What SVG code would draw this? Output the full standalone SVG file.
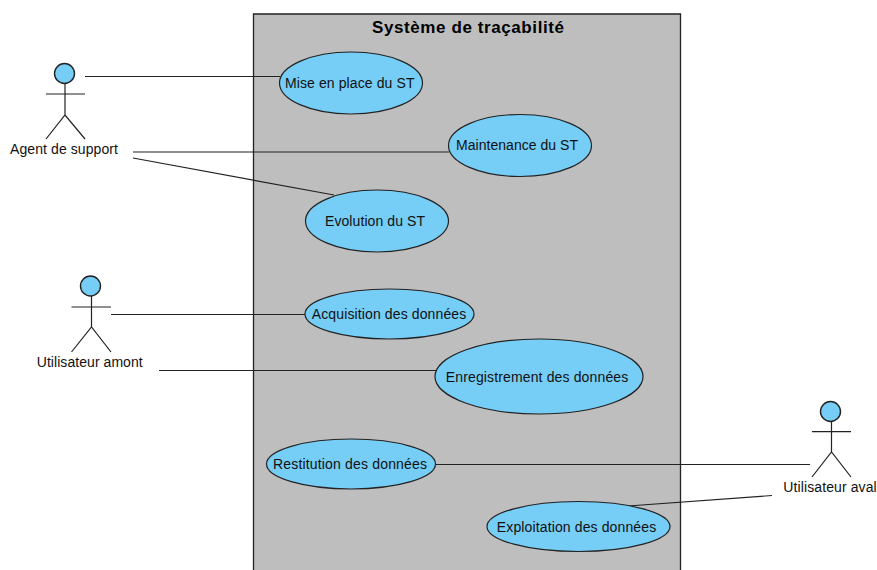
<svg xmlns="http://www.w3.org/2000/svg" width="877" height="570" viewBox="0 0 877 570">
<style>
.uc{fill:#76cdf6;stroke:#222;stroke-width:1.2}
.head{fill:#76cdf6;stroke:#222;stroke-width:1.4}
.limb{fill:none;stroke:#222;stroke-width:1.2}
.conn{fill:none;stroke:#222;stroke-width:1.2}
text{font-family:"Liberation Sans",Arial,sans-serif;font-size:14px;fill:#111;text-anchor:middle}
.title{font-size:17px;font-weight:bold;fill:#000}
</style>
<rect width="877" height="570" fill="#fff"/>
<g id="system">
<path d="M253.5 570V14H680.5V570" fill="#bebebe" stroke="#222" stroke-width="1.3"/>
<text class="title" x="468" y="33" textLength="192">Système de traçabilité</text>
</g>
<g id="connectors">
<line class="conn" x1="85" y1="76.5" x2="280" y2="76.5"/>
<line class="conn" x1="133" y1="152" x2="449" y2="152"/>
<line class="conn" x1="133" y1="158" x2="334" y2="195"/>
<line class="conn" x1="111" y1="314.5" x2="306" y2="314.5"/>
<line class="conn" x1="159" y1="370.5" x2="436" y2="370.5"/>
<line class="conn" x1="435" y1="464.5" x2="810" y2="464.5"/>
<line class="conn" x1="772" y1="495.5" x2="628" y2="506"/>
</g>
<g id="uc-mise"><ellipse class="uc" cx="351" cy="83" rx="71.5" ry="31"/><text x="349.7" y="87.5" textLength="129.5">Mise en place du ST</text></g>
<g id="uc-maintenance"><ellipse class="uc" cx="520" cy="145.5" rx="71.5" ry="31"/><text x="517" y="150" textLength="122">Maintenance du ST</text></g>
<g id="uc-evolution"><ellipse class="uc" cx="377" cy="221" rx="71.5" ry="31"/><text x="375" y="225.5" textLength="100">Evolution du ST</text></g>
<g id="uc-acquisition"><ellipse class="uc" cx="389.5" cy="314" rx="84.5" ry="25"/><text x="389" y="318.5" textLength="154.5">Acquisition des données</text></g>
<g id="uc-enregistrement"><ellipse class="uc" cx="539" cy="376.5" rx="104" ry="37.5"/><text x="537" y="381.5" textLength="182.5">Enregistrement des données</text></g>
<g id="uc-restitution"><ellipse class="uc" cx="351" cy="464" rx="84.5" ry="25"/><text x="350" y="468.5" textLength="154">Restitution des données</text></g>
<g id="uc-exploitation"><ellipse class="uc" cx="578.5" cy="526.5" rx="91.5" ry="25"/><text x="576.5" y="531.5" textLength="159.3">Exploitation des données</text></g>
<g id="actor-agent">
<circle class="head" cx="64.5" cy="73.5" r="10"/>
<path class="limb" d="M65 83.5V115M46 94H85M46 139L65 115L85 139"/>
<text x="64" y="154" textLength="108">Agent de support</text>
</g>
<g id="actor-amont">
<circle class="head" cx="90.5" cy="286" r="10"/>
<path class="limb" d="M91.5 296V327M71.5 307H111M71.5 352L91.5 327L111 352"/>
<text x="89.7" y="366.5" textLength="106">Utilisateur amont</text>
</g>
<g id="actor-aval">
<circle class="head" cx="830.5" cy="411.5" r="10"/>
<path class="limb" d="M831.5 421.5V452M812 431.7H851M812 477L831.5 452L851 477"/>
<text x="830" y="491.5" textLength="93.4">Utilisateur aval</text>
</g>
</svg>
